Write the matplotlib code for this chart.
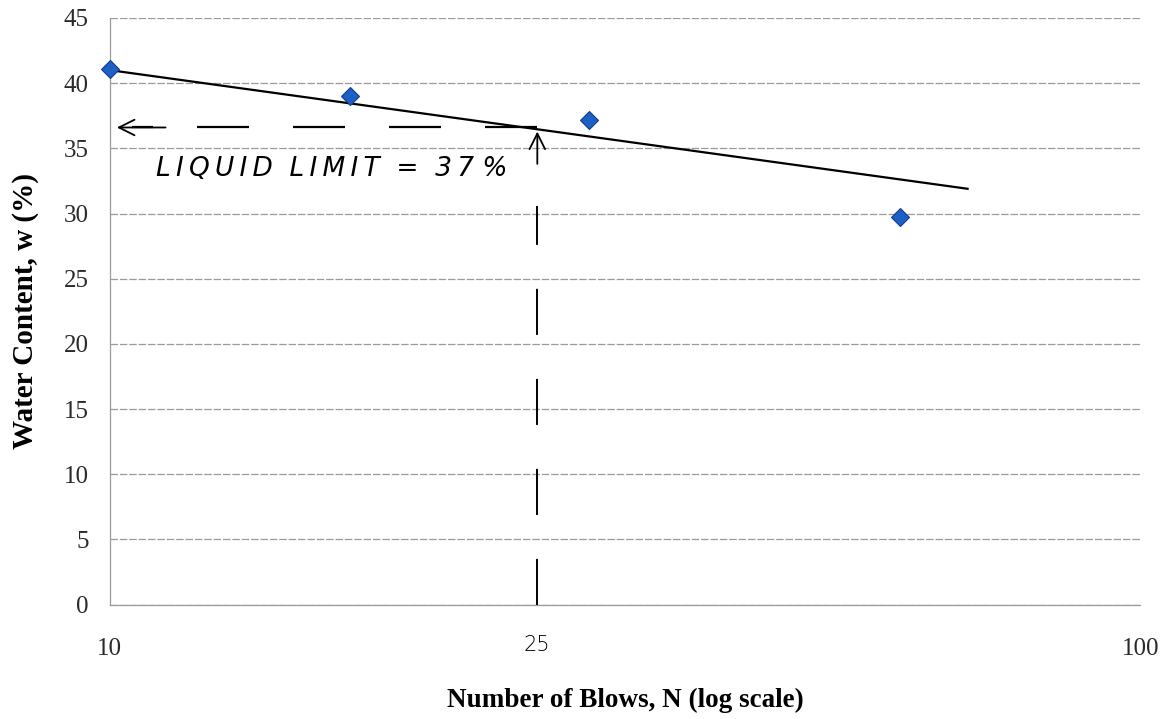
import matplotlib
matplotlib.use('Agg')
import matplotlib.pyplot as plt

# data
blows = [10, 17.1, 29.2, 58.5]
water = [41.1, 39.0, 37.2, 29.7]

# trend line as drawn (end points)
trend_n = [10, 68]
trend_w = [41.0, 31.9]

# hand-drawn liquid limit construction
ll_n = 26
ll_w = 36.6
ll_words = ["LIQUID", "LIMIT", "=", "37", "%"]

y_ticks = [0, 5, 10, 15, 20, 25, 30, 35, 40, 45]

fig = plt.figure(figsize=(11.67, 7.19), dpi=100)
ax = fig.add_axes([0.094, 0.159, 0.883, 0.816])

ax.set_xscale('log')
ax.set_xlim(10, 100)
ax.set_ylim(0, 45)

# gridlines
for y in y_ticks:
    ax.axhline(y, color='#9a9a9a', lw=0.9, ls=(0, (6, 1.5)), zorder=1)

ax.plot(trend_n, trend_w, color='black', lw=1.6, zorder=3)
ax.plot(blows, water, ls='none', marker='D', ms=9, color='#1d5fc4',
        mec='#123f8a', mew=0.8, zorder=4, clip_on=False)

# horizontal dashed arrow to the y axis (drawn from the 25 line leftwards)
ax.plot([ll_n, 10.5], [ll_w, ll_w], color='black', lw=1.6,
        dashes=(23.4, 19.8), dash_capstyle='butt', zorder=2)
ax.annotate('', xy=(10.1, ll_w), xytext=(11.4, ll_w),
            arrowprops=dict(arrowstyle='->', lw=1.3, color='black',
                            mutation_scale=28))
# vertical line from x axis with arrow to the trend line
ax.plot([ll_n, ll_n], [0, 30.6], color='black', lw=1.4,
        dashes=(23.7, 22.6), dash_capstyle='butt', zorder=2)
ax.annotate('', xy=(ll_n, ll_w - 0.1), xytext=(ll_n, 33.6),
            arrowprops=dict(arrowstyle='->', lw=1.3, color='black',
                            mutation_scale=28))

# loose hand lettering: thin spaces between letters
ll_text = "  ".join("\u2009".join(w) for w in ll_words[:4]) + " " + ll_words[4]
ax.text(11.1, 33.4, ll_text, fontsize=19, family='DejaVu Sans',
        style='oblique', fontweight='light', va='center', ha='left')
ax.text(ll_n, -3.1, '25', fontsize=15, family='DejaVu Sans',
        fontweight='light', va='center', ha='center')

ax.set_yticks(y_ticks)
ax.set_yticklabels([str(v) for v in y_ticks], family='Liberation Serif',
                   fontsize=18, color='#2a2a2a')
ax.set_xticks([10, 100])
ax.set_xticklabels(['10', '100'], family='Liberation Serif', fontsize=18,
                   color='#2a2a2a')
ax.minorticks_off()
ax.tick_params(axis='y', length=0, pad=15)
ax.tick_params(axis='x', length=0, pad=24)

for side in ['top', 'right']:
    ax.spines[side].set_visible(False)
ax.spines['left'].set_color('#9a9a9a')
ax.spines['left'].set_linewidth(0.9)
ax.spines['bottom'].set_color('#9a9a9a')
ax.spines['bottom'].set_linewidth(0.9)

ax.set_xlabel('Number of Blows, N (log scale)', family='Liberation Serif',
              fontsize=19.5, fontweight='bold', labelpad=20)
ax.set_ylabel('Water Content, w (%)', family='Liberation Serif',
              fontsize=21, fontweight='bold', labelpad=18)

fig.savefig('out.png', dpi=100, facecolor='white')
